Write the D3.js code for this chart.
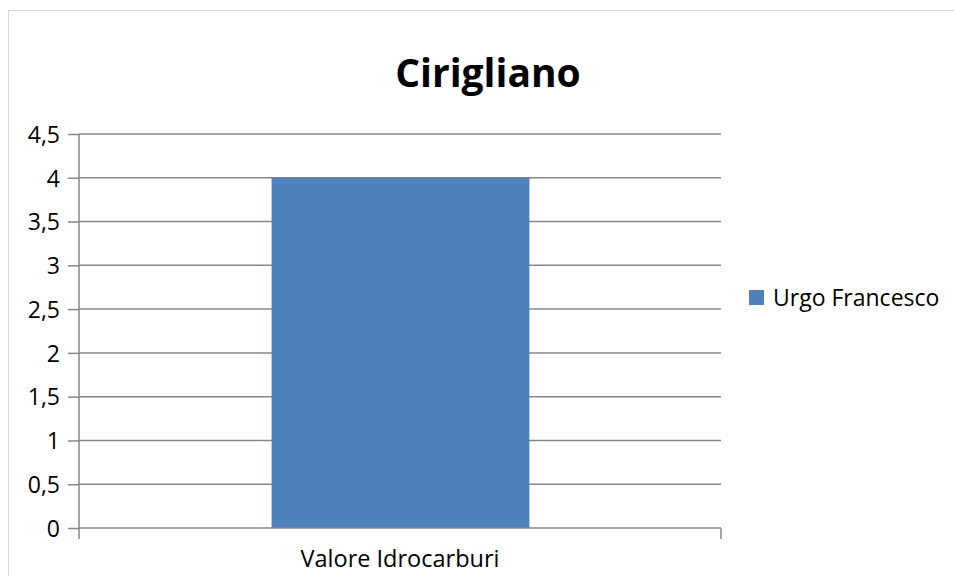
<!DOCTYPE html>
<html>
<head>
<meta charset="utf-8">
<script src="https://cdn.jsdelivr.net/npm/d3@7"></script>
<style>
  body { margin: 0; background: #fff; }
  svg text { font-family: "Open Sans", "Noto Sans", sans-serif; fill: #000; }
</style>
</head>
<body>
<svg id="chart" width="954" height="576"></svg>
<script>
var categories = ["Valore Idrocarburi"];
var seriesName = "Urgo Francesco";
var values = [4];
var yTicks = [0, 0.5, 1, 1.5, 2, 2.5, 3, 3.5, 4, 4.5];
var title = "Cirigliano";

var svg = d3.select("#chart");
var margin = {left: 79, right: 233, top: 134, bottom: 48};
var W = 954, H = 576;
var font = "'Open Sans', 'Noto Sans', sans-serif";

// chart border
svg.append("rect").attr("x", 8.5).attr("y", 10.5)
  .attr("width", W).attr("height", H)
  .attr("fill", "none").attr("stroke", "#d9d9d9").attr("stroke-width", 1);

var x = d3.scaleBand().domain(categories).range([margin.left, W - margin.right]).paddingInner(0).paddingOuter(0);
var y = d3.scaleLinear().domain([0, 4.5]).range([H - margin.bottom, margin.top]);

// gridlines
svg.append("g").selectAll("line").data(yTicks.filter(function (d) { return d > 0; }))
  .enter().append("line")
  .attr("x1", margin.left).attr("x2", W - margin.right)
  .attr("y1", function (d) { return y(d); }).attr("y2", function (d) { return y(d); })
  .attr("stroke", "#878787").attr("stroke-width", 1.5);

// bars
var bw = x.bandwidth() * 0.4;
svg.append("g").selectAll("rect").data(values).enter().append("rect")
  .attr("x", function (d, i) { return x(categories[i]) + (x.bandwidth() - bw) / 2; })
  .attr("y", function (d) { return y(d); })
  .attr("width", bw + 1)
  .attr("height", function (d) { return y(0) - y(d); })
  .attr("fill", "#4f81bd");

// y axis
var yAxis = d3.axisLeft(y).tickValues(yTicks).tickSize(11).tickPadding(8)
  .tickFormat(function (d) { return String(d).replace(".", ","); });
var gy = svg.append("g").attr("transform", "translate(" + margin.left + ",0)").call(yAxis);
gy.select(".domain").attr("stroke", "#878787").attr("stroke-width", 1.5).attr("d", "M0," + y(4.5) + "V" + y(0));
gy.selectAll(".tick line").attr("stroke", "#878787").attr("stroke-width", 1.5);
gy.selectAll(".tick text").style("font-size", "23px").style("font-family", font).attr("dy", "0.36em");

// x axis
var gx = svg.append("g").attr("transform", "translate(0," + y(0) + ")");
gx.append("line").attr("x1", margin.left).attr("x2", W - margin.right)
  .attr("stroke", "#878787").attr("stroke-width", 1.5);
[margin.left, W - margin.right].forEach(function (px) {
  gx.append("line").attr("x1", px).attr("x2", px).attr("y1", 0).attr("y2", 11)
    .attr("stroke", "#878787").attr("stroke-width", 1.5);
});
gx.selectAll("text.cat").data(categories).enter().append("text").attr("class", "cat")
  .attr("x", function (d) { return x(d) + x.bandwidth() / 2; })
  .attr("y", 38.5).attr("text-anchor", "middle").style("font-size", "23.5px").text(function (d) { return d; });

// title
svg.append("text").attr("x", 488).attr("y", 87).attr("text-anchor", "middle")
  .style("font-size", "39px").style("font-weight", "bold").text(title);

// legend
var lg = svg.append("g").attr("transform", "translate(749,290)");
lg.append("rect").attr("width", 15).attr("height", 15).attr("fill", "#4f81bd");
lg.append("text").attr("x", 24).attr("y", 15.5).style("font-size", "23px").text(seriesName);
</script>
</body>
</html>
